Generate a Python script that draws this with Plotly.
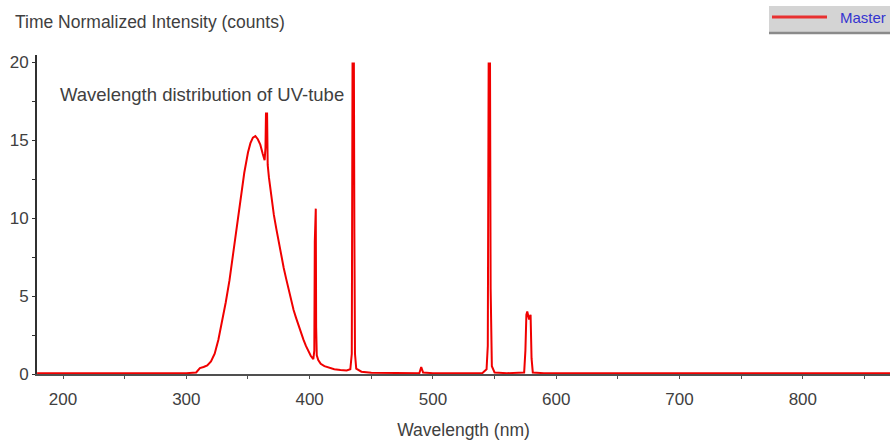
import plotly.graph_objects as go

# ---- data ----
wavelength_nm = [
    179, 230, 300, 308, 311, 314, 317, 320, 323, 326, 329, 332, 335, 338, 341, 344,
    347, 350, 352, 354, 356, 358, 360, 362, 363.5, 364.2, 364.6, 365.5, 366, 367,
    369, 371, 373, 375, 377, 379, 381, 383, 385, 387, 389, 391, 393, 395, 397, 399,
    401, 403, 403.8, 404.2, 404.6, 405.0, 405.3, 405.8, 407, 409, 412, 416, 420,
    425, 430, 433, 434.2, 434.8, 435.9, 436.3, 436.8, 437.8, 442, 450, 470, 489, 490.5,
    492, 500, 540, 543.5, 544.5, 545.2, 546.3, 546.8, 547.8, 550, 560, 574, 575, 575.8,
    576.5, 578.0, 579.2, 580, 581, 590, 871,
]
intensity_counts = [
    0.05, 0.05, 0.05, 0.1, 0.38, 0.45, 0.55, 0.8, 1.3, 2.2, 3.3, 4.6, 6.0, 7.7, 9.5, 11.3,
    12.9, 14.2, 14.8, 15.15, 15.25, 15.05, 14.7, 14.1, 13.7, 14.5, 16.7, 16.7, 13.4, 12.6,
    11.3, 10.2, 9.3, 8.4, 7.6, 6.8, 6.1, 5.4, 4.7, 4.1, 3.6, 3.1, 2.6, 2.2, 1.8, 1.45,
    1.15, 0.95, 1.5, 8.5, 10.6, 10.6, 3.0, 1.2, 0.9, 0.65, 0.5, 0.38, 0.3,
    0.25, 0.22, 0.3, 1.3, 19.9, 19.9, 9.0, 1.3, 0.35, 0.15, 0.08, 0.05, 0.05, 0.45,
    0.1, 0.05, 0.05, 0.3, 1.8, 19.9, 19.9, 5.5, 0.5, 0.1, 0.05, 0.1, 1.5, 3.8,
    4.0, 3.5, 3.8, 1.0, 0.1, 0.05, 0.05,
]
series_name = "Master"
title_text = "Time Normalized Intensity (counts)"
note_text = "Wavelength distribution of UV-tube"
x_title = "Wavelength (nm)"

# ---- layout geometry ----
W, H = 890, 441
ML, MR, MT, MB = 37, 0, 55, 67
PW, PH = W - ML - MR, H - MT - MB
X0, X1 = 178.9, 870.7
Y0, Y1 = 0, 20.45

FONT = "Liberation Sans, Arial, sans-serif"
TXT = "#404040"


def px_x(p):  # pixel -> paper x
    return (p - ML) / PW


def px_y(p):  # pixel -> paper y
    return (H - MB - p) / PH


fig = go.Figure()
fig.add_trace(go.Scatter(
    x=wavelength_nm, y=intensity_counts, mode="lines", name=series_name,
    line=dict(color="#f00000", width=2), showlegend=False,
))

fig.update_layout(
    width=W, height=H,
    margin=dict(l=ML, r=MR, t=MT, b=MB, pad=0),
    paper_bgcolor="white", plot_bgcolor="white",
    font=dict(family=FONT, color=TXT, size=17),
    title=dict(text=title_text, xref="container", yref="container",
               x=15 / W, xanchor="left", y=1 - 22 / H, yanchor="middle",
               font=dict(size=17.5, color=TXT)),
    xaxis=dict(range=[X0, X1], dtick=100, tick0=0, showgrid=False, zeroline=False,
               showline=True, linecolor="#505050", linewidth=1.5,
               ticks="outside", ticklen=3, tickcolor="#505050",
               minor=dict(dtick=50, ticks="outside", ticklen=3, tickcolor="#505050"),
               tickfont=dict(size=17, color=TXT), ticklabelstandoff=6,
               title=dict(text=x_title, standoff=16, font=dict(size=17.5, color=TXT)),
               automargin=False),
    yaxis=dict(range=[Y0, Y1], dtick=5, tick0=0, showgrid=False, zeroline=False,
               showline=True, linecolor="#303030", linewidth=1.8,
               ticks="outside", ticklen=3, tickcolor="#303030",
               minor=dict(dtick=2.5, ticks="outside", ticklen=3, tickcolor="#303030"),
               tickfont=dict(size=17, color=TXT), automargin=False),
)

fig.add_annotation(text=note_text, xref="x", yref="y", x=195.9, y=17.9,
                   xanchor="left", yanchor="middle", showarrow=False,
                   font=dict(size=18.5, color=TXT))

# legend box at the top right corner
fig.add_shape(type="rect", xref="paper", yref="paper",
              x0=px_x(769), x1=px_x(895), y0=px_y(34), y1=px_y(6),
              fillcolor="#d4d4d4", line=dict(width=0), layer="above")
fig.add_shape(type="line", xref="paper", yref="paper",
              x0=px_x(769), x1=px_x(895), y0=px_y(33), y1=px_y(33),
              line=dict(color="#8a8a8a", width=2.5), layer="above")
fig.add_shape(type="line", xref="paper", yref="paper",
              x0=px_x(772), x1=px_x(827), y0=px_y(17), y1=px_y(17),
              line=dict(color="#e83030", width=3), layer="above")
fig.add_annotation(text=series_name, xref="paper", yref="paper",
                   x=px_x(838), y=px_y(18), xanchor="left", yanchor="middle",
                   showarrow=False, font=dict(size=15, color="#3535d0"))

fig.write_html("out.html")
